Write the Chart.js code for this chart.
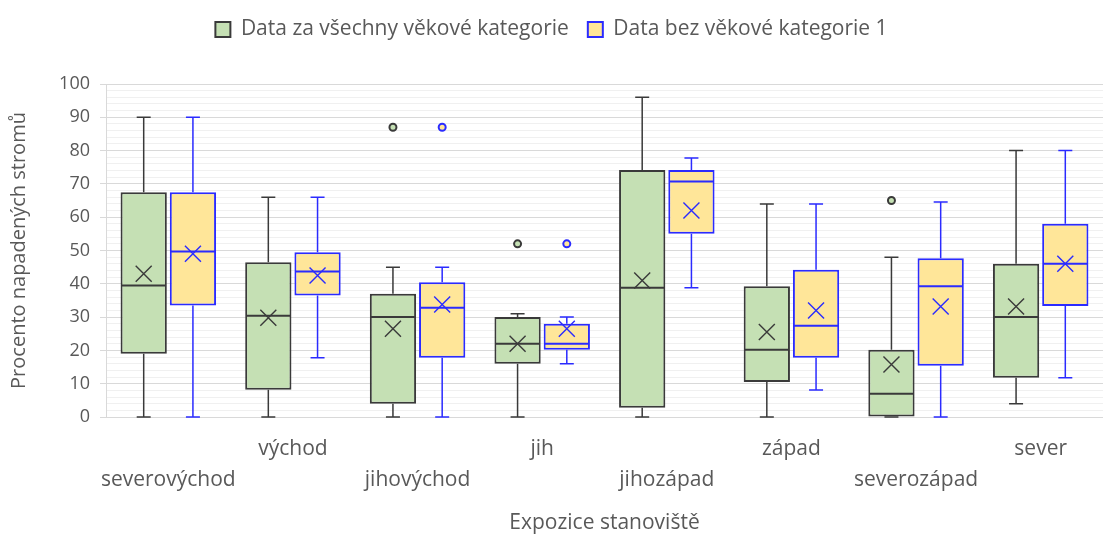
<!DOCTYPE html>
<html>
<head>
<meta charset="utf-8">
<script src="https://cdn.jsdelivr.net/npm/chart.js@4/dist/chart.umd.min.js"></script>
<style>
  html, body { margin: 0; padding: 0; background: #fff; }
  #wrap { width: 1103px; height: 536px; }
</style>
</head>
<body>
<div id="wrap"><canvas id="boxChart"></canvas></div>
<script>
// --- data ---
const categories = ['severovýchod', 'východ', 'jihovýchod', 'jih', 'jihozápad', 'západ', 'severozápad', 'sever'];
const seriesNames = ['Data za všechny věkové kategorie', 'Data bez věkové kategorie 1'];
const yTicks = [0, 10, 20, 30, 40, 50, 60, 70, 80, 90, 100];

// všechny věkové kategorie
const allMin      = [0, 0, 0, 0, 0, 0, 0, 4];
const allQ1       = [19, 8.2, 4, 16, 2.8, 10.5, 0, 11.8];
const allMedian   = [39.5, 30.4, 30, 22, 38.8, 20.2, 7, 30];
const allQ3       = [67.5, 46.5, 37, 30, 74.2, 39.3, 20.2, 46];
const allMax      = [90, 66, 45, 31, 96, 64, 48, 80];
const allMean     = [43, 29.8, 26.5, 22, 41, 25.5, 15.8, 33.2];
const allOutliers = [[], [], [87], [52], [], [], [65], []];

// bez věkové kategorie 1
const subMin      = [0, 17.8, 0, 16, 38.8, 8.1, 0, 11.8];
const subQ1       = [33.5, 36.5, 17.8, 20.2, 55, 17.8, 15.4, 33.3];
const subMedian   = [49.7, 43.7, 32.8, 22, 70.7, 27.4, 39.3, 46];
const subQ3       = [67.5, 49.5, 40.5, 28, 74.2, 44.2, 47.7, 58];
const subMax      = [90, 66, 45, 30, 77.8, 64, 64.6, 80];
const subMean     = [49, 42.5, 33.8, 26.5, 62, 32, 33.2, 46];
const subOutliers = [[], [], [87], [52], [], [], [], []];

const FONT = 'Open Sans';
const TEXT = '#595959';

// box = floating bar [Q1, Q3], the rest drawn by the plugin below
function boxes(q1, q3) {
    return q1.map((v, i) => [v, q3[i]]);
}

// whiskers, median, mean (X) and outliers
const boxExtras = {
    id: 'boxExtras',
    afterDatasetsDraw(chart) {
        const ctx = chart.ctx;
        const y = chart.scales.y;
        chart.data.datasets.forEach((ds, d) => {
            const meta = chart.getDatasetMeta(d);
            const st = ds.stats;
            meta.data.forEach((bar, i) => {
                const x = bar.x;
                const half = bar.width / 2;
                ctx.save();
                ctx.strokeStyle = ds.borderColor;
                ctx.lineWidth = 1.5;
                // whiskers
                ctx.beginPath();
                ctx.moveTo(x, y.getPixelForValue(st.q3[i]));
                ctx.lineTo(x, y.getPixelForValue(st.max[i]));
                ctx.moveTo(x - 7, y.getPixelForValue(st.max[i]));
                ctx.lineTo(x + 7, y.getPixelForValue(st.max[i]));
                ctx.moveTo(x, y.getPixelForValue(st.q1[i]));
                ctx.lineTo(x, y.getPixelForValue(st.min[i]));
                ctx.moveTo(x - 7, y.getPixelForValue(st.min[i]));
                ctx.lineTo(x + 7, y.getPixelForValue(st.min[i]));
                ctx.stroke();
                // median
                ctx.lineWidth = 2;
                ctx.beginPath();
                const my = y.getPixelForValue(st.median[i]);
                ctx.moveTo(x - half + 1, my);
                ctx.lineTo(x + half - 1, my);
                ctx.stroke();
                // mean
                ctx.lineWidth = 1.4;
                const ay = y.getPixelForValue(st.mean[i]);
                ctx.beginPath();
                ctx.moveTo(x - 8, ay - 8);
                ctx.lineTo(x + 8, ay + 8);
                ctx.moveTo(x + 8, ay - 8);
                ctx.lineTo(x - 8, ay + 8);
                ctx.stroke();
                // outliers
                ctx.lineWidth = 2;
                ctx.fillStyle = ds.backgroundColor;
                st.outliers[i].forEach(v => {
                    ctx.beginPath();
                    ctx.arc(x, y.getPixelForValue(v), 3.5, 0, Math.PI * 2);
                    ctx.fill();
                    ctx.stroke();
                });
                ctx.restore();
            });
        });
    }
};

// extra room under the legend
const legendSpace = {
    id: 'legendSpace',
    beforeInit(chart) {
        const fit = chart.legend.fit;
        chart.legend.fit = function () {
            fit.bind(chart.legend)();
            this.height += 34;
        };
    }
};

new Chart(document.getElementById('boxChart'), {
    type: 'bar',
    data: {
        labels: categories,
        datasets: [
            {
                label: seriesNames[0],
                data: boxes(allQ1, allQ3),
                backgroundColor: '#c5e0b4',
                borderColor: '#3a3a3a',
                borderWidth: 2,
                borderSkipped: false,
                stats: { min: allMin, q1: allQ1, median: allMedian, q3: allQ3, max: allMax, mean: allMean, outliers: allOutliers }
            },
            {
                label: seriesNames[1],
                data: boxes(subQ1, subQ3),
                backgroundColor: '#ffe699',
                borderColor: '#2b2bff',
                borderWidth: 2,
                borderSkipped: false,
                stats: { min: subMin, q1: subQ1, median: subMedian, q3: subQ3, max: subMax, mean: subMean, outliers: subOutliers }
            }
        ]
    },
    options: {
        responsive: true,
        maintainAspectRatio: false,
        animation: false,
        categoryPercentage: 0.79,
        barPercentage: 0.94,
        layout: { padding: { top: 0, right: 0, bottom: 0, left: 0 } },
        plugins: {
            legend: {
                position: 'top',
                labels: {
                    color: TEXT,
                    font: { family: FONT, size: 21 },
                    boxWidth: 15,
                    boxHeight: 15,
                    padding: 19
                }
            },
            tooltip: { enabled: false }
        },
        scales: {
            x: {
                offset: true,
                grid: { display: false, drawTicks: false },
                border: { display: false },
                ticks: {
                    color: TEXT,
                    font: { family: FONT, size: 21, lineHeight: 1.48 },
                    padding: 16,
                    maxRotation: 0,
                    autoSkip: false,
                    callback: (v, i) => (i % 2 === 0 ? ['', categories[i]] : [categories[i]])
                },
                title: {
                    display: true,
                    text: 'Expozice stanoviště',
                    color: TEXT,
                    font: { family: FONT, size: 21 },
                    padding: { top: 0, bottom: 0 }
                },
                afterFit: (scale) => { scale.height = 119; }
            },
            y: {
                min: 0,
                max: 100,
                grid: {
                    color: (c) => (yTicks.includes(c.tick.value) ? '#d9d9d9' : '#f0f0f0'),
                    tickColor: (c) => (yTicks.includes(c.tick.value) ? '#d9d9d9' : 'rgba(0,0,0,0)'),
                    tickLength: 6
                },
                border: { display: true, color: '#d9d9d9' },
                ticks: {
                    stepSize: 2,
                    autoSkip: false,
                    color: TEXT,
                    font: { family: FONT, size: 18 },
                    padding: 10,
                    callback: (v) => (yTicks.includes(v) ? v : '')
                },
                title: {
                    display: true,
                    text: 'Procento napadených stromů',
                    color: TEXT,
                    font: { family: FONT, size: 20 },
                    padding: { top: 7, bottom: 0 }
                },
                afterFit: (scale) => { scale.width = 106; }
            }
        }
    },
    plugins: [boxExtras, legendSpace]
});
</script>
</body>
</html>
